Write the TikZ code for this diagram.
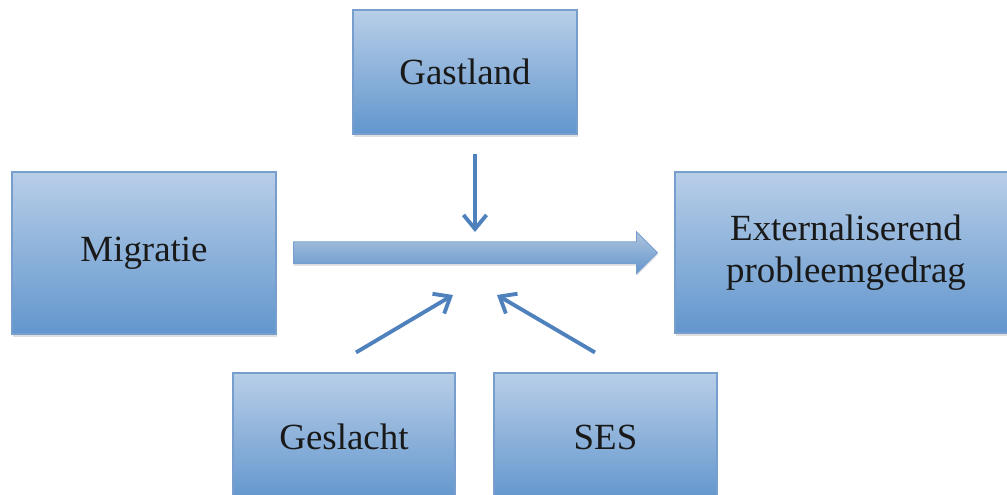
\documentclass[tikz,border=0pt]{standalone}
\usepackage{fontspec}
\setmainfont{Liberation Serif}
\usetikzlibrary{shapes.arrows,arrows.meta,shadows,calc}

\definecolor{boxtop}{RGB}{184,206,232}
\definecolor{boxbottom}{RGB}{98,150,205}
\definecolor{boxline}{RGB}{120,158,206}
\definecolor{pijlblauw}{RGB}{79,129,189}

\begin{document}
\begin{tikzpicture}[
        % Stijl voor de blokken
        blok/.style={rectangle, draw=boxline, line width=0.6pt,
            top color=boxtop, bottom color=boxbottom,
            drop shadow={opacity=0.25, shadow xshift=0.4pt, shadow yshift=-1.6pt},
            font=\fontsize{21}{24}\selectfont, align=center, text=black!90},
        % Stijl voor de brede pijl
        hoofdpijl/.style={single arrow, draw=boxline, line width=0.5pt,
            top color=boxtop!95!black, bottom color=boxbottom,
            drop shadow={opacity=0.2, shadow xshift=0.3pt, shadow yshift=-1.2pt},
            minimum height=7.28cm, minimum width=0.82cm,
            single arrow head extend=0.2cm, inner xsep=0pt, inner ysep=0.21cm},
        % Stijl voor de dunne pijlen
        pijltje/.style={draw=pijlblauw, line width=2.2pt,
            -{Straight Barb[length=0.28cm, width=0.46cm]}}
    ]
        % --- Afmetingen van de figuur ---
        \clip (0,0) rectangle (20.14,9.9);

        % --- Blokken ---
        % Moderator bovenaan
        \node[blok, minimum width=4.48cm, minimum height=2.48cm] (gast) at (9.30,8.46) {Gastland};

        % Onafhankelijke variabele (links)
        \node[blok, minimum width=5.28cm, minimum height=3.24cm] (migr) at (2.88,4.84) {Migratie};

        % Afhankelijke variabele (rechts)
        \node[blok, minimum width=6.84cm, minimum height=3.22cm] (extern) at (16.92,4.85) {Externaliserend\\probleemgedrag};

        % Moderatoren onderaan
        \node[blok, minimum width=4.44cm, minimum height=2.56cm] (gesl) at (6.88,1.16) {Geslacht};
        \node[blok, minimum width=4.46cm, minimum height=2.56cm] (ses) at (12.11,1.16) {SES};

        % --- Brede pijl tussen migratie en probleemgedrag ---
        \node[hoofdpijl] (pijl) at ([xshift=-0.11cm]$(migr.east)!0.5!(extern.west)$) {};

        % --- Begin- en eindpunten van de dunne pijlen ---
        \coordinate (vanGast) at ([xshift=0.2cm, yshift=-0.38cm]gast.south);
        \coordinate (naarGast) at (9.5,5.26);
        \coordinate (vanGesl) at ([xshift=0.24cm, yshift=0.4cm]gesl.north);
        \coordinate (naarGesl) at (9.06,4.0);
        \coordinate (vanSes) at ([xshift=-0.21cm, yshift=0.4cm]ses.north);
        \coordinate (naarSes) at (9.94,4.0);

        % --- Dunne pijlen naar de brede pijl ---
        \draw[pijltje] (vanGast) -- (naarGast);
        \draw[pijltje] (vanGesl) -- (naarGesl);
        \draw[pijltje] (vanSes) -- (naarSes);

    \end{tikzpicture}
\end{document}
